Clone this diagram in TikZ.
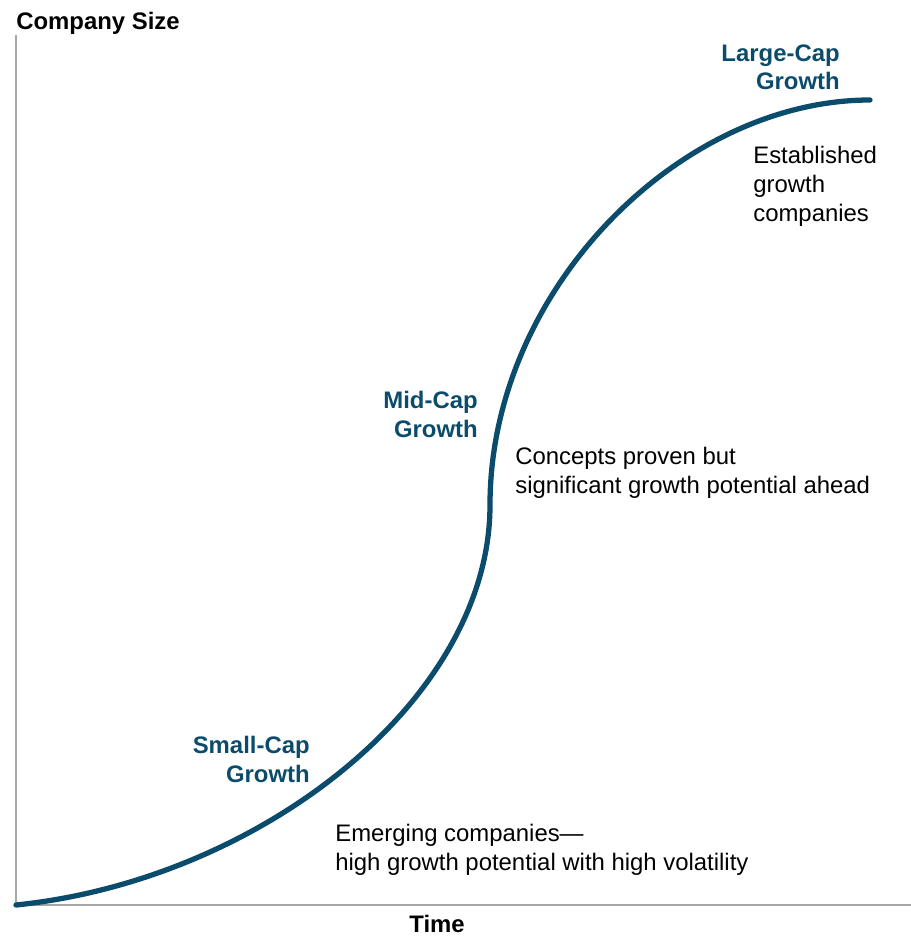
\documentclass[tikz,border=0pt]{standalone}
\usepackage{fontspec}
\setmainfont{Liberation Sans}
\usetikzlibrary{positioning}
\definecolor{capblue}{RGB}{11,76,108}
\definecolor{axisgray}{RGB}{166,166,166}
\tikzset{
	capnode/.style={inner sep=0pt,align=right,text=capblue,font=\fontsize{13.6}{16.4}\selectfont\bfseries},
	notenode/.style={inner sep=0pt,align=left,font=\fontsize{13.6}{16.4}\selectfont},
	axisnode/.style={inner sep=0pt,font=\fontsize{13.6}{16.4}\selectfont\bfseries},
	myaxis/.style={draw=axisgray,line width=1.1pt},
	mycurve/.style={draw=capblue,line width=3pt,line cap=round}
}

\begin{document}
\begin{tikzpicture}[x=0.02cm,y=-0.02cm]
		\useasboundingbox (0,0) rectangle (911,944);
		% axes
		\coordinate (origin) at (16,905);
		\coordinate (ytop) at (16,35);
		\coordinate (xend) at (911,905);
		\draw[myaxis] (ytop) -- (origin) -- (xend);
		\node[axisnode,anchor=north west](size) at (16,12){Company Size};
		\node[axisnode,anchor=north](time) at (437,915){Time};
		% growth curve
		\coordinate (bend) at (490,505);
		\coordinate (top) at (870,100);
		\draw[mycurve] (origin) .. controls (260,880) and (490,700) .. (bend)
			.. controls (490,290) and (680,100) .. (top);
		% stages
		\node[capnode,anchor=north east](small) at (310,736){Small-Cap\\Growth};
		\node[notenode,anchor=north west](emerging) at (335,824){Emerging companies—\\high growth potential with high volatility};
		\node[capnode,anchor=north east](mid) at (478,391){Mid-Cap\\Growth};
		\node[notenode,anchor=north west](proven) at (515,447){Concepts proven but\\significant growth potential ahead};
		\node[capnode,anchor=north east](large) at (840,44){Large-Cap\\Growth};
		\node[notenode,anchor=north west](established) at (753,146){Established\\growth\\companies};
	\end{tikzpicture}
\end{document}
